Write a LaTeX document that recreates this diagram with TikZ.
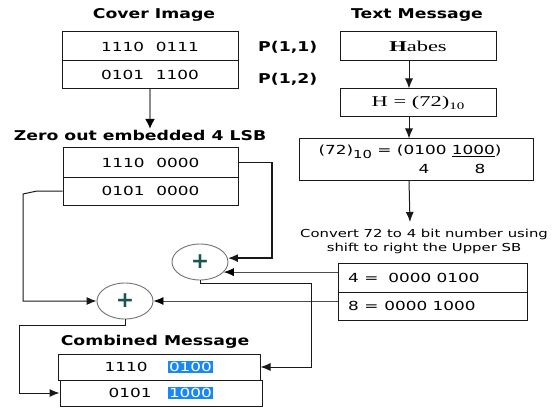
\documentclass[tikz,border=0pt]{standalone}
\usepackage{fontspec}
\setmainfont{DejaVu Sans}
\newfontfamily\myTfont[FakeStretch=1.28]{DejaVu Sans}
\newfontfamily\myRfont[FakeStretch=1.35]{DejaVu Sans}
\newfontfamily\mySfont[FakeStretch=1.5]{Liberation Serif}
\usetikzlibrary{shapes.geometric,arrows.meta}
\definecolor{hl}{RGB}{25,135,245}
\definecolor{plusc}{RGB}{25,85,85}
\newcommand\mytitle{\myTfont\bfseries\fontsize{13.5}{15}\selectfont}
\newcommand\mydg{\myRfont\fontsize{12.5}{14}\selectfont}
\newcommand\mymid{\myRfont\fontsize{12.5}{14}\selectfont}
\newcommand\mysmall{\myRfont\fontsize{11}{14}\selectfont}
\newcommand\myserif{\mySfont\fontsize{15}{17}\selectfont}
\newcommand\myplus{\bfseries\fontsize{22}{22}\selectfont}
\newcommand\hlbox[1]{{\setlength{\fboxsep}{1.5pt}\colorbox{hl}{\textcolor{white}{#1}}}}
\begin{document}
\begin{tikzpicture}[x=1pt,y=-1pt,
  rowbox/.style={draw=black!90,line width=1pt,rectangle,inner sep=0pt,font=\mydg},
  ttl/.style={font=\mytitle,inner sep=0pt},
  conn/.style={draw=black!90,line width=1pt,-{Latex[length=10pt,width=8pt]}},
  thinc/.style={draw=black!70,line width=0.8pt,-{Latex[length=10pt,width=8pt,color=black]}},
  plusnode/.style={ellipse,draw=black!55,line width=0.9pt,minimum width=56pt,minimum height=36pt,inner sep=0pt,font=\myplus,text=plusc}]
\fill[white] (0,0) rectangle (554,409);
\useasboundingbox (0,0) rectangle (554,409);

% titles
\node[ttl] (tcover) at (154,15) {Cover Image};
\node[ttl] (tzero) at (140,135) {Zero out embedded 4 LSB};
\node[ttl] (ttext) at (417,15) {Text Message};
\node[ttl] (tcomb) at (155,342) {Combined Message};
\node[ttl,anchor=west] (p11) at (258,47) {P(1,1)};
\node[ttl,anchor=west] (p12) at (258,79) {P(1,2)};

% cover image
\node[rowbox,minimum width=176pt,minimum height=29pt] (cr1) at (150,46.5) {1110\hspace{12pt}0111};
\node[rowbox,minimum width=176pt,minimum height=28pt] (cr2) at (150,75) {0101\hspace{12pt}1100};
% zero out
\node[rowbox,minimum width=175pt,minimum height=29pt] (zr1) at (150.5,162.5) {1110\hspace{12pt}0000};
\node[rowbox,minimum width=175pt,minimum height=28pt] (zr2) at (150.5,191) {0101\hspace{12pt}0000};

% text message
\node[rowbox,minimum width=156pt,minimum height=29pt,font=\myserif] (habes) at (418,46.5) {\textbf{H}abes};
\node[rowbox,minimum width=156pt,minimum height=28pt,font=\myserif] (hval) at (418,103) {H = (72)\raisebox{-3pt}{\fontsize{10}{10}\selectfont 10}};
\node[rowbox,minimum width=234pt,minimum height=41pt] (conv) at (416,159.5) {};
\node[inner sep=0pt,font=\mymid] (convtxt) at (410,152) {(72)\raisebox{-4pt}{\fontsize{11}{11}\selectfont 10} = (0100 \underline{1000})};
\node[inner sep=0pt,font=\mymid] (n4) at (424,169) {4};
\node[inner sep=0pt,font=\mymid] (n8) at (480,169) {8};
\node[inner sep=0pt,align=center,font=\mysmall] (cvt) at (424,241) {Convert 72 to 4 bit number using\\shift to right the Upper SB};

% 4 / 8 rows
\node[rowbox,minimum width=189pt,minimum height=29pt] (r4) at (432.5,277.5) {};
\node[rowbox,minimum width=189pt,minimum height=28pt] (r8) at (432.5,306) {};
\node[inner sep=0pt,anchor=west,font=\mydg] (t4) at (348,278) {4 =\hspace{10pt}0000 0100};
\node[inner sep=0pt,anchor=west,font=\mydg] (t8) at (348,306) {8 =\hspace{6pt}0000 1000};

% adders
\node[plusnode] (c1) at (200,262) {+};
\node[plusnode] (c2) at (125,301) {+};

% combined
\node[rowbox,minimum width=202pt,minimum height=26pt] (cb1) at (159,367) {1110\hspace{20pt}\hlbox{0100}};
\node[rowbox,minimum width=202pt,minimum height=26pt] (cb2) at (161,393) {0101\hspace{16pt}\hlbox{1000}};

% connectors
\coordinate (a1) at (150,129);
\draw[draw=black!45,line width=2.5pt,-{Latex[length=10pt,width=10pt,color=black]}] (cr2.south) -- (a1);
\coordinate (ax) at (409,0);
\draw[conn] (habes.south -| ax) -- (hval.north -| ax);
\draw[conn] (hval.south -| ax) -- (conv.north -| ax);
\coordinate (a2) at (410,222);
\draw[conn] (conv.south -| ax) -- (a2);

\coordinate (j0) at (272,0);
\draw[conn,line width=1.8pt] (zr1.east) -| (j0 |- c1.8) -- (c1.8);
\draw[thinc] (r4.west |- c1.-23) -- (c1.-23);
\draw[thinc] (r8.west |- c2.east) -- (c2.east);

\coordinate (j1) at (311,283);
\draw[conn] (c1.south) |- (j1) |- (cb1.east);
\coordinate (j2) at (19,325);
\draw[conn] (c2.south) |- (j2) |- (cb2.west);
\coordinate (j3) at (37,191);
\coordinate (j4) at (23,194);
\draw[conn] (zr2.west) -- (j3) -- (j4) |- (c2.west);
\end{tikzpicture}
\end{document}
